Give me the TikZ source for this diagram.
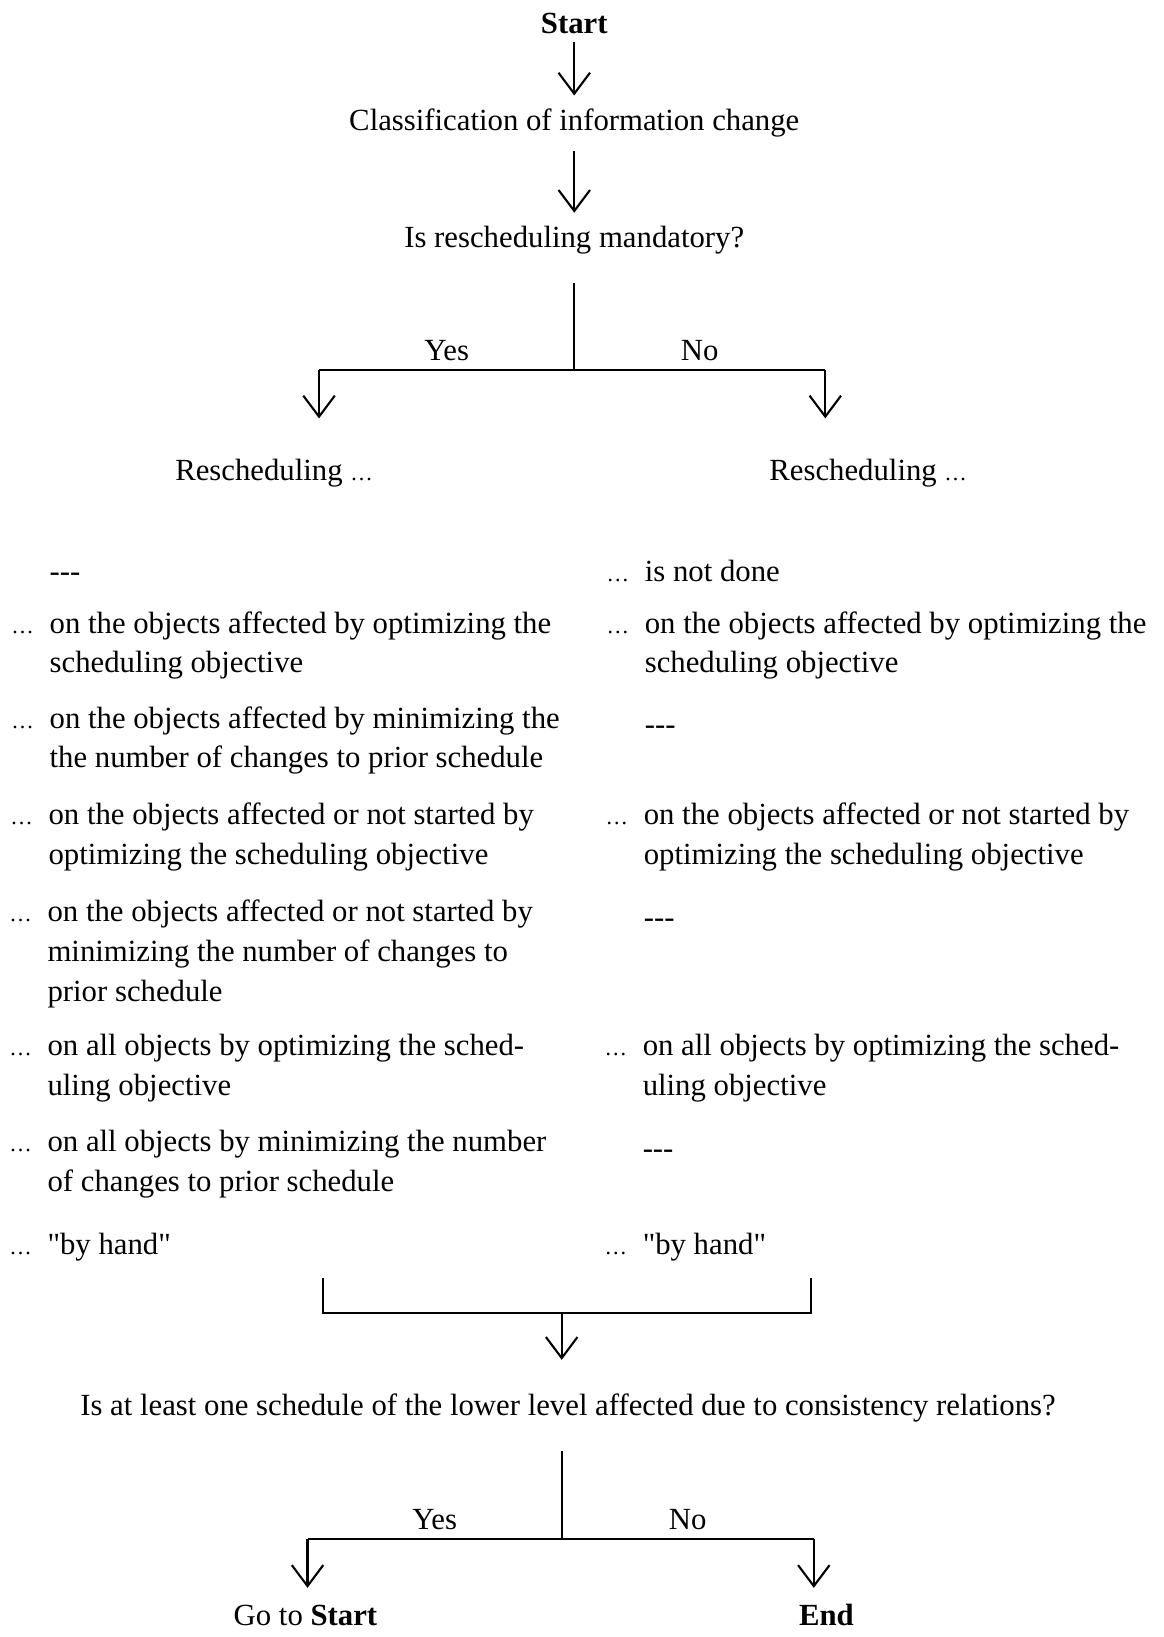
\documentclass[tikz,border=0pt]{standalone}
\usepackage{fontspec}
\setmainfont{Liberation Serif}
\usetikzlibrary{arrows.meta}

\newcommand{\smalldots}{{\fontsize{9pt}{9pt}\selectfont\dots}}
\newcommand{\lead}{\llap{\smalldots\hspace{6.3pt}}}

\tikzset{
	ln/.style={line width=0.84pt},
	arr/.style={ln, -{Straight Barb[length=8.4pt,width=12.6pt,line width=0.84pt]}},
	item/.style={anchor=north west, align=left, inner sep=0pt, execute at begin node=\strut},
}

\begin{document}
\begin{tikzpicture}[x=0.4184pt,y=-0.4184pt,font=\fontsize{12.3pt}{15.9pt}\selectfont]
	\useasboundingbox (0,0) rectangle (1112,1565);

	% question 1
	\node (start) at (549,22) {\textbf{Start}};
	\node (classify) at (549,118) {Classification of information change};
	\node (mandatory) at (549,230) {Is rescheduling mandatory?};
	\draw[arr, shorten >=2pt] (start) -- (classify);
	\draw[arr, shorten <=2pt, shorten >=2pt] (classify) -- (mandatory);

	\coordinate (fork1) at (549,354);
	\coordinate (yesL) at (305,354);
	\coordinate (noR) at (789,354);
	\coordinate (tipL) at (305,400);
	\coordinate (tipR) at (789,400);
	\draw[ln, shorten <=8pt] (mandatory) -- (fork1);
	\draw[ln] (yesL) -- (fork1)node[midway, above] (yes1) {Yes} -- (noR)node[midway, above] (no1) {No};
	\draw[arr] (yesL) -- (tipL);
	\draw[arr] (noR) -- (tipR);

	\node (reschedL) at (262,452) {Rescheduling \smalldots};
	\node (reschedR) at (830,452) {Rescheduling \smalldots};

	% left column (Yes)
	\node[item] (l1) at (47,529) {-{}-{}-};
	\node[item] (l2) at (47,584) {\lead on the objects affected by optimizing the\\scheduling objective};
	\node[item] (l3) at (47,675) {\lead on the objects affected by minimizing the\\the number of changes to prior schedule};
	\node[item] (l4) at (46,767) {\lead on the objects affected or not started by\\optimizing the scheduling objective};
	\node[item] (l5) at (45,860) {\lead on the objects affected or not started by\\minimizing the number of changes to\\prior schedule};
	\node[item] (l6) at (45,988) {\lead on all objects by optimizing the sched-\\uling objective};
	\node[item] (l7) at (45,1080) {\lead on all objects by minimizing the number\\of changes to prior schedule};
	\node[item] (l8) at (45,1172) {\lead \textquotedbl by hand\textquotedbl};

	% right column (No)
	\node[item] (r1) at (616,529) {\lead is not done};
	\node[item] (r2) at (616,584) {\lead on the objects affected by optimizing the\\scheduling objective};
	\node[item] (r3) at (616,675) {-{}-{}-};
	\node[item] (r4) at (615,767) {\lead on the objects affected or not started by\\optimizing the scheduling objective};
	\node[item] (r5) at (615,860) {-{}-{}-};
	\node[item] (r6) at (614,988) {\lead on all objects by optimizing the sched-\\uling objective};
	\node[item] (r7) at (614,1080) {-{}-{}-};
	\node[item] (r8) at (614,1172) {\lead \textquotedbl by hand\textquotedbl};

	% join and question 2
	\coordinate (brL) at (309,1222);
	\coordinate (brR) at (775,1222);
	\coordinate (brLb) at (309,1255);
	\coordinate (brRb) at (775,1255);
	\coordinate (join) at (537,1255);
	\coordinate (tipJ) at (537,1300);
	\draw[ln] (brL) -- (brLb) -- (brRb) -- (brR);
	\draw[arr] (join) -- (tipJ);

	\node (lower) at (543,1346) {Is at least one schedule of the lower level affected due to consistency relations?};

	\coordinate (fork2) at (537,1471);
	\coordinate (yesL2) at (294,1471);
	\coordinate (noR2) at (778,1471);
	\coordinate (tipL2) at (294,1518);
	\coordinate (tipR2) at (778,1518);
	\draw[ln, shorten <=8pt] (lower.south -| fork2) -- (fork2);
	\draw[ln] (yesL2) -- (fork2)node[midway, above] (yes2) {Yes} -- (noR2)node[midway, above] (no2) {No};
	\draw[arr] (yesL2) -- (tipL2);
	\draw[arr] (noR2) -- (tipR2);

	\node[anchor=base] (goto) at (292,1554) {Go to \textbf{Start}};
	\node[anchor=base] (stop) at (790,1554) {\textbf{End}};
\end{tikzpicture}
\end{document}
